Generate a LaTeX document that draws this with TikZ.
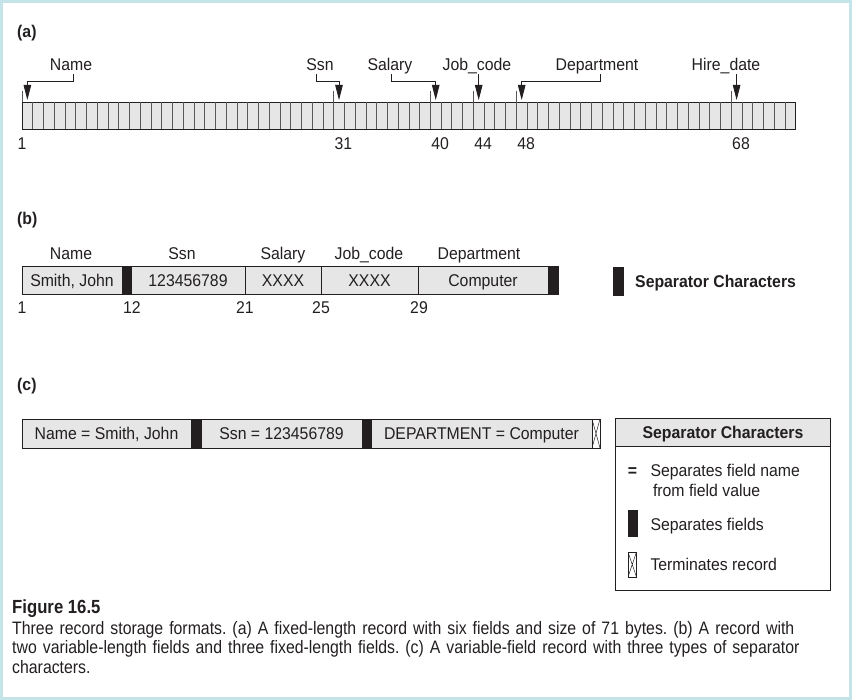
\documentclass[tikz,border=0pt]{standalone}
\usepackage{fontspec}
\setmainfont{Liberation Sans}[FakeStretch=0.93]
\newfontfamily\capfont{Liberation Sans}[FakeStretch=0.88]
\usetikzlibrary{arrows.meta, positioning}

\definecolor{ink}{HTML}{231F20}
\definecolor{cellgray}{HTML}{E6E6E6}
\definecolor{framecyan}{HTML}{C5E4EA}

\newcommand{\cw}{10.746}
\frenchspacing

\begin{document}
\begin{tikzpicture}[
    x=1pt, y=-1pt,
    node distance=0pt,
    lbl/.style={font=\fontsize{17}{20}\selectfont, text=ink, inner sep=1pt,
      outer sep=3pt, text height=12.2pt, text depth=0pt},
    num/.style={lbl, inner sep=0pt, outer sep=0pt},
    part/.style={font=\bfseries\fontsize{17}{20}\selectfont, text=ink,
      anchor=west, inner sep=0pt, text height=12.2pt, text depth=0pt},
    field/.style={draw=ink, fill=cellgray, line width=0.9pt, inner sep=0pt,
      outer sep=0pt, minimum height=#1, font=\fontsize{17}{20}\selectfont,
      text=ink, text height=12.2pt, text depth=0pt},
    field/.default=28,
    sepbar/.style={draw=ink, fill=ink, line width=0.9pt, inner sep=0pt,
      outer sep=0pt, minimum height=#1},
    sepbar/.default=28,
    termbox/.style={draw=ink, fill=white, line width=0.7pt, inner sep=0pt,
      outer sep=0pt, minimum height=#1,
      path picture={\draw[ink, line width=0.5pt]
        (path picture bounding box.north west) -- (path picture bounding box.south east)
        (path picture bounding box.north east) -- (path picture bounding box.south west);}},
    termbox/.default=29,
    grid/.style={draw=ink!75, line width=0.7pt},
    link/.style={->, draw=ink, line width=0.8pt},
    >={Triangle[width=7.5pt, length=15pt]},
  ]
  \useasboundingbox (0,0) rectangle (852,700);
  \draw[framecyan, line width=3pt] (1.5,1.5) rectangle (850.5,698.5);

  % (a) fixed-length record
  \node[part] (pa) at (17,31) {(a)};
  \node[field=27, minimum width=773.7, anchor=north west] (abar) at (22,102) {};
  \foreach \i in {1,...,71}
    \draw[grid] ({22+\i*\cw},102) -- ++(0,27);
  \foreach \k/\n in {0/1, 29/31, 38/40, 42/44, 46/48, 66/68} {
    \draw[grid] ({22+\k*\cw},91) -- ++(0,11);
    \coordinate (a\n) at ({22+(\k+0.5)*\cw},100);
  }
  \node[num] (n1) at (22,143) {1};
  \foreach \k/\n in {29/31, 38/40, 42/44, 46/48, 66/68}
    \node[num, anchor=west] (n\n) at ({22+\k*\cw+1},143) {\n};

  \node[lbl] (lname) at (71,64) {Name};
  \node[lbl] (lssn) at (320,64) {Ssn};
  \node[lbl] (lsal) at (390,64) {Salary};
  \node[lbl] (ljob) at (477,64) {Job\_code};
  \node[lbl] (ldep) at (597,64) {Department};
  \node[lbl] (lhire) at (726,64) {Hire\_date};
  \draw[link] ([xshift=2pt]lname.south) -- ++(0,7) -| (a1);
  \draw[link] ([xshift=-4pt]lssn.south) -- ++(0,7) -| (a31);
  \draw[link] ([xshift=1pt]lsal.south) -- ++(0,7) -| (a40);
  \draw[link] (ljob.south -| a44) -- (a44);
  \draw[link] ([xshift=3pt]ldep.south) -- ++(0,7) -| (a48);
  \draw[link] (lhire.south -| a68) -- (a68);

  % (b) variable-length fields
  \node[part] (pb) at (17,218) {(b)};
  \node[field, minimum width=100, anchor=west] (bname) at (22,280) {Smith, John};
  \node[sepbar, minimum width=9, right=of bname] (bsep1) {};
  \node[field, minimum width=114, right=of bsep1] (bssn) {123456789};
  \node[field, minimum width=76, right=of bssn] (bsal) {XXXX};
  \node[field, minimum width=97, right=of bsal] (bjob) {XXXX};
  \node[field, minimum width=130, right=of bjob] (bdep) {Computer};
  \node[sepbar, minimum width=10, right=of bdep] (bsep2) {};

  \node[lbl] (hname) at (71,253) {Name};
  \node[lbl] (hssn) at (182,253) {Ssn};
  \node[lbl] (hsal) at (283,253) {Salary};
  \node[lbl] (hjob) at (369,253) {Job\_code};
  \node[lbl] (hdep) at (479,253) {Department};

  \node[num] (m1) at (22,307) {1};
  \node[num] (m12) at (132,307) {12};
  \node[num] (m21) at (245,307) {21};
  \node[num] (m25) at (321,307) {25};
  \node[num] (m29) at (419,307) {29};

  \node[sepbar, minimum width=10, anchor=north west] (bkey) at (613.5,267) {};
  \node[part, right=11.5pt of bkey] (bkeytext) {Separator Characters};

  % (c) variable fields with separators
  \node[part] (pc) at (17,384) {(c)};
  \node[field=29, minimum width=169, anchor=west] (cname) at (22,433.5) {Name = Smith, John};
  \node[sepbar=29, minimum width=10, right=of cname] (csep1) {};
  \node[field=29, minimum width=161, right=of csep1] (cssn) {Ssn = 123456789};
  \node[sepbar=29, minimum width=9, right=of cssn] (csep2) {};
  \node[field=29, minimum width=221, right=of csep2] (cdep) {DEPARTMENT = Computer};
  \node[termbox, minimum width=8, right=of cdep] (cterm) {};

  \node[draw=ink, line width=0.9pt, minimum width=215, minimum height=172,
    inner sep=0pt, outer sep=0pt, anchor=north west] (key) at (615.5,418.5) {};
  \node[field, minimum width=215, anchor=north west,
    font=\bfseries\fontsize{17}{20}\selectfont] (keyhead) at (key.north west) {Separator Characters};
  \node[num, font=\bfseries\fontsize{17}{20}\selectfont] (keq) at (632.5,470) {=};
  \node[num, anchor=west] (keqtext) at (650.5,470) {Separates field name};
  \node[num, anchor=west] (keqtext2) at (653,490) {from field value};
  \node[sepbar=26, minimum width=9, anchor=north west] (ksep) at (628,510.5) {};
  \node[num, anchor=west] (kseptext) at (650.5,524) {Separates fields};
  \node[termbox=25, minimum width=8.5, anchor=north west] (kterm) at (628,552) {};
  \node[num, anchor=west] (ktermtext) at (650.5,564.5) {Terminates record};

  % caption
  \node[anchor=base west, inner sep=0pt, text=ink,
    font=\capfont\bfseries\fontsize{19}{22}\selectfont] (figno) at (12,613) {Figure 16.5};
  \node[anchor=north west, inner sep=0pt, text=ink, text width=830, align=left,
    font=\capfont\fontsize{18}{19.5}\selectfont] (figtext) at (12,621)
    {Three record storage formats. (a) A fixed-length record with six fields and size of 71 bytes. (b) A record with\\
     two variable-length fields and three fixed-length fields. (c) A variable-field record with three types of separator\\
     characters.};
\end{tikzpicture}
\end{document}
